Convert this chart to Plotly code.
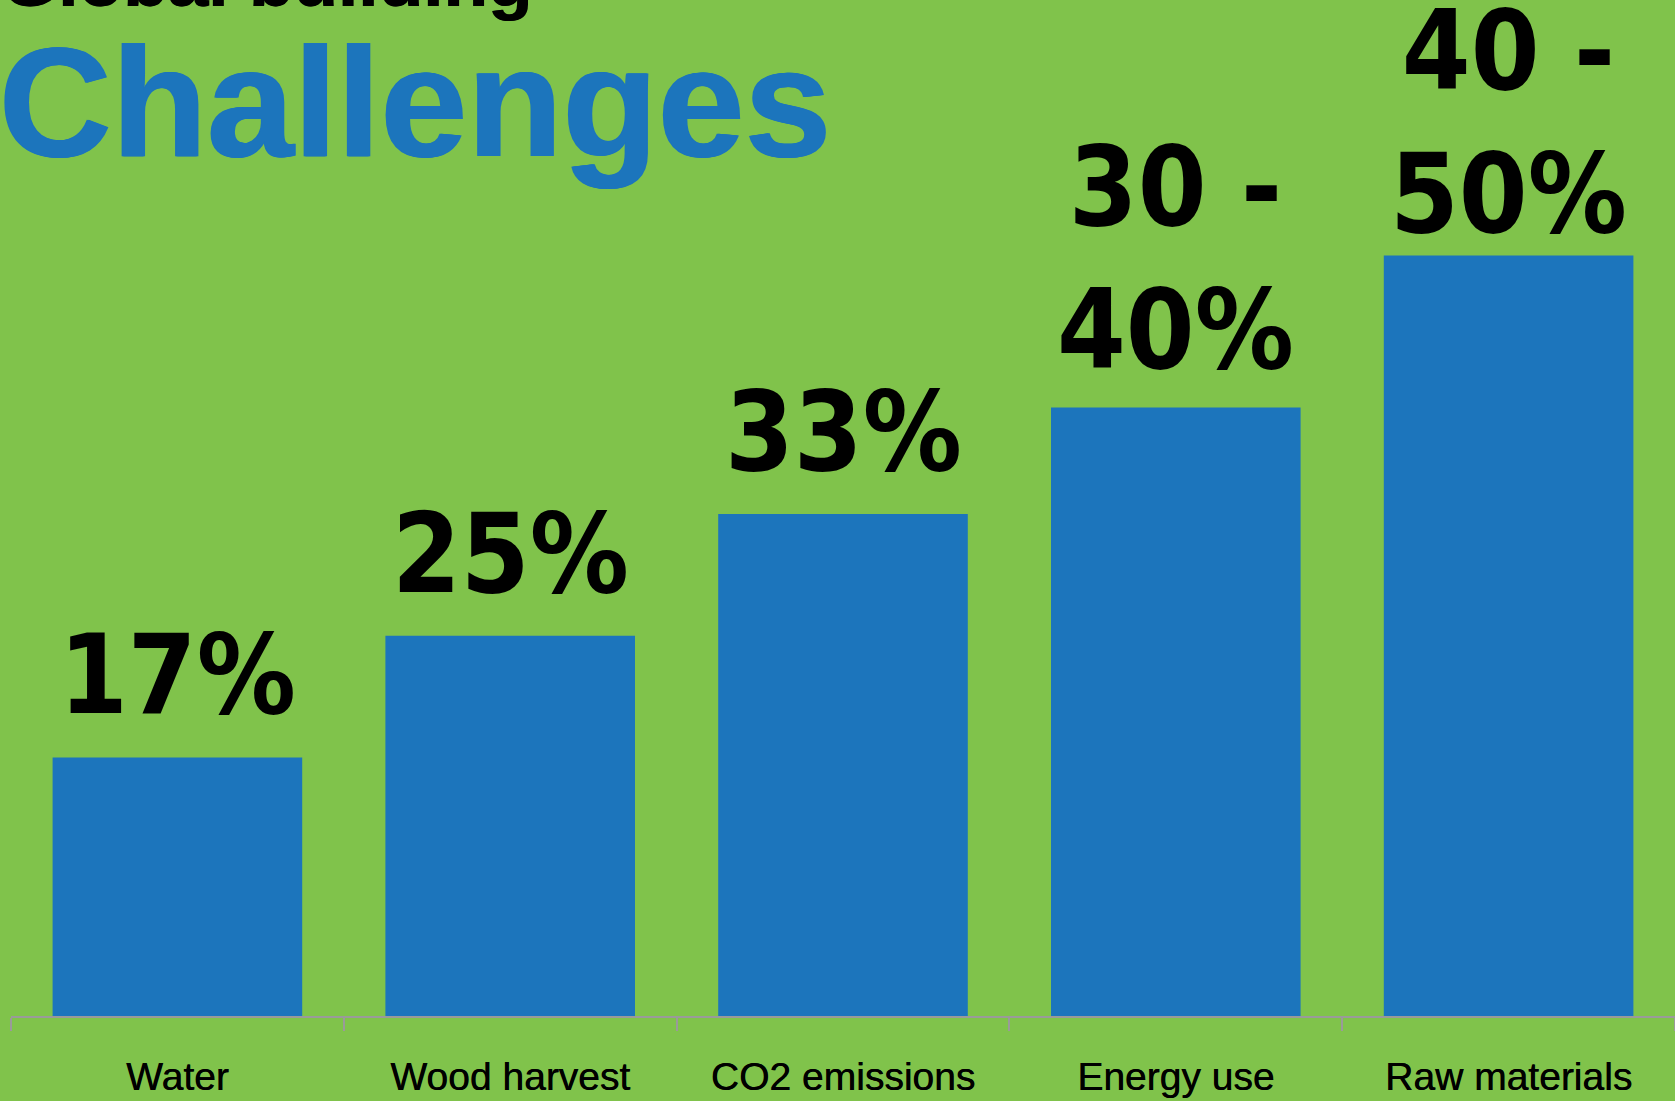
import plotly.graph_objects as go

# Share of global totals attributable to buildings
categories = ["Water", "Wood harvest", "CO2 emissions", "Energy use", "Raw materials"]
values = [17, 25, 33, 40, 50]
value_labels = ["17%", "25%", "33%", "30 -<br>40%", "40 -<br>50%"]

GREEN = "#80C34B"
BLUE = "#1C75BC"

# extra downward nudge for the callout that sits tight under the top edge
label_nudge = {"Raw materials": -20, "Energy use": -4}

fig = go.Figure()
fig.add_trace(go.Bar(
    x=categories,
    y=values,
    marker=dict(color=BLUE, line=dict(width=0)),
    hoverinfo="skip",
))

# value callouts above each bar
for cat, val, lab in zip(categories, values, value_labels):
    fig.add_annotation(
        x=cat, y=val, xref="x", yref="y",
        text=lab, showarrow=False,
        xanchor="center", yanchor="bottom", yshift=16 + label_nudge.get(cat, 0),
        font=dict(family="DejaVu Sans Condensed, DejaVu Sans", size=110, color="black", weight="bold"),
    )

# heading
fig.add_annotation(
    x=0, y=1, xref="paper", yref="paper", xshift=-12, yshift=62,
    text="<b>Global building</b>", showarrow=False,
    xanchor="left", yanchor="top",
    font=dict(family="Liberation Sans", size=73, color="black",
              shadow="1px 0px 0px black"),
)
fig.add_annotation(
    x=0, y=1, xref="paper", yref="paper", xshift=-14, yshift=-13,
    text="<b>Challenges</b>", showarrow=False,
    xanchor="left", yanchor="top",
    font=dict(family="Liberation Sans", size=156, color=BLUE,
              shadow="1px 0px 0px #1C75BC, -1px 0px 0px #1C75BC"),
)

fig.update_layout(
    width=1675, height=1101,
    paper_bgcolor=GREEN, plot_bgcolor=GREEN,
    margin=dict(l=11, r=0, t=0, b=85),
    bargap=0.25,
    showlegend=False,
    font=dict(family="Liberation Sans", color="black"),
)
fig.update_xaxes(
    type="category",
    range=[-0.5, 4.5],
    showline=True, linecolor="#9a9a9a", linewidth=1.5,
    ticks="outside", tickson="boundaries", ticklen=13, tickcolor="#9a9a9a", tickwidth=1.5,
    tickfont=dict(family="Liberation Sans", size=39, color="black",
                  shadow="0.5px 0px 0px black"),
    ticklabelstandoff=25,
    showgrid=False, zeroline=False,
)
fig.update_yaxes(
    range=[0, 66.8], visible=False, showgrid=False, zeroline=False,
)

fig.write_html("out.html")
